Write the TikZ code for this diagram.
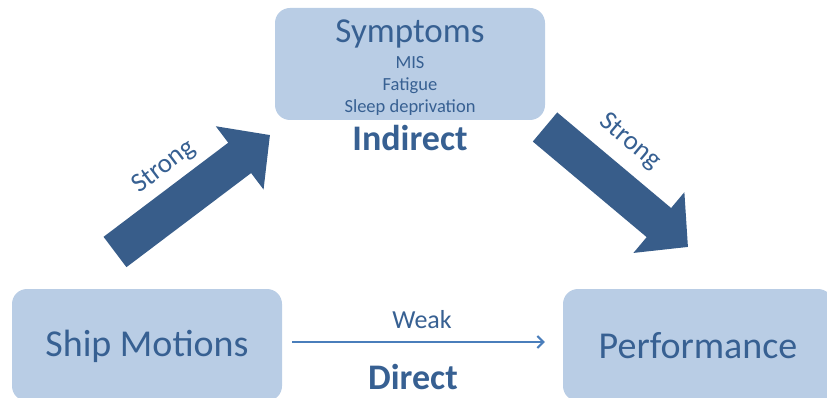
\documentclass[tikz,border=0pt]{standalone}
\usepackage{fontspec}
\setmainfont{Carlito}
\usetikzlibrary{arrows.meta,positioning}
\definecolor{boxblue}{HTML}{B9CDE5}
\definecolor{textblue}{HTML}{376092}
\definecolor{arrowblue}{HTML}{385D8A}
\definecolor{lineblue}{HTML}{4A7EBB}
\tikzset{
    box/.style={rectangle, rounded corners=15pt, fill=boxblue, minimum width=270pt, minimum height=112pt},
    bigtext/.style={text=textblue, font=\fontsize{38}{40}\selectfont},
    boldtext/.style={text=textblue, font=\fontsize{36}{40}\selectfont\bfseries},
    smalltext/.style={text=textblue, font=\fontsize{18.5}{22}\selectfont, align=center},
    midtext/.style={text=textblue, font=\fontsize{27}{28}\selectfont, inner sep=0pt},
    fat/.style={arrowblue, line width=38pt, -{Triangle[length=38pt, width=77pt]}},
}
\begin{document}
\begin{tikzpicture}[x=1pt, y=-1pt]
    \path[use as bounding box, clip] (0,0) rectangle (827,398);

    \node[box] (symptoms) at (410,64) {};
    \node[bigtext, font=\fontsize{35}{38}\selectfont] (symtitle) at (410,34) {Symptoms};
    \node[smalltext] (symlist) at (410,86) {MIS\\Fatigue\\Sleep deprivation};
    \node[boldtext, below=2pt of symptoms] (indirect) {Indirect};

    \node[box] (ship) at (147,345) {};
    \node[bigtext] (shiptext) at (147,346) {Ship Motions};
    \node[box] (perf) at (698,345) {};
    \node[bigtext] (perftext) at (698,346) {Performance};

    \coordinate (l1) at (115,252);
    \coordinate (l2) at (270,135);
    \coordinate (r1) at (545,127);
    \coordinate (r2) at (688,247);
    \draw[fat] (l1) -- (l2);
    \draw[fat] (r1) -- (r2);
    \node[midtext, rotate=37] (strong1) at (164,167) {Strong};
    \node[midtext, rotate=-40] (strong2) at (630,142) {Strong};

    \draw[lineblue, line width=2pt, -{Straight Barb[length=6pt, width=12pt]}, shorten <=10pt, shorten >=18pt] (ship.east |- 0,342) coordinate (w1) -- (perf.west |- 0,342) coordinate (w2);
    \node[midtext, font=\fontsize{26}{28}\selectfont] (weak) at (422,320) {Weak};
    \node[boldtext] (direct) at (413,377) {Direct};
\end{tikzpicture}
\end{document}
